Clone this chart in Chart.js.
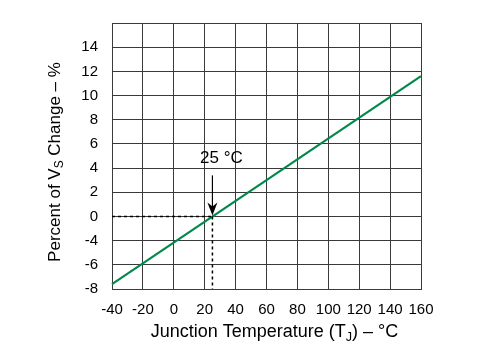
<!DOCTYPE html>
<html>
<head>
<meta charset="utf-8">
<script src="https://cdn.jsdelivr.net/npm/chart.js@4"></script>
<style>
  html, body { margin: 0; padding: 0; background: #fff; }
  #wrap { width: 500px; height: 354px; position: relative; }
</style>
</head>
<body>
<div id="wrap"><canvas id="vsChart"></canvas></div>
<script>
// Junction temperature (degC) and Vs change (%, in plotted units)
const temps = [-40, 160];
const vsChange = [-5.6, 11.6];

// Tick labels as printed on the original (note: no "-2" label)
const yTickValues = [-6, -4, -2, 0, 2, 4, 6, 8, 10, 12, 14, 16];
const yTickLabels = ['-8', '-6', '-4', '0', '2', '4', '6', '8', '10', '12', '14', ''];
const xTicks = [-40, -20, 0, 20, 40, 60, 80, 100, 120, 140, 160];

// 25 degC marker
const markerTemp = 25;
const markerValue = 0;
const markerLabel = '25 °C';

const FONT = '"Liberation Sans", Arial, sans-serif';
const gridColor = '#3a3a3a';

// Draws text with a subscript part: parts = [[text, isSub], ...]
const drawSubText = (ctx, parts, x, y, size) => {
    let total = 0;
    parts.forEach(([t, sub]) => {
        ctx.font = `${sub ? size * 0.7 : size}px ${FONT}`;
        total += ctx.measureText(t).width;
    });
    let cx = x - total / 2;
    parts.forEach(([t, sub]) => {
        ctx.font = `${sub ? size * 0.7 : size}px ${FONT}`;
        ctx.fillText(t, cx, sub ? y + size * 0.3 : y);
        cx += ctx.measureText(t).width;
    });
};

const extras = {
    id: 'extras',
    afterDatasetsDraw(chart) {
        const { ctx, scales: { x, y } } = chart;
        const px = x.getPixelForValue(markerTemp);
        const py = y.getPixelForValue(markerValue);
        ctx.save();
        // dashed guides
        ctx.strokeStyle = '#000';
        ctx.lineWidth = 1.5;
        ctx.setLineDash([3, 3]);
        ctx.beginPath();
        ctx.moveTo(x.left, py);
        ctx.lineTo(px, py);
        ctx.moveTo(px, py);
        ctx.lineTo(px, y.bottom);
        ctx.stroke();
        ctx.setLineDash([]);
        // arrow
        const top = y.getPixelForValue(3.4);
        ctx.lineWidth = 1.2;
        ctx.beginPath();
        ctx.moveTo(px, top);
        ctx.lineTo(px, py - 8);
        ctx.stroke();
        ctx.fillStyle = '#000';
        ctx.beginPath();
        ctx.moveTo(px, py - 1);
        ctx.lineTo(px - 5, py - 14);
        ctx.lineTo(px, py - 10);
        ctx.lineTo(px + 5, py - 14);
        ctx.closePath();
        ctx.fill();
        // marker label
        ctx.textBaseline = 'middle';
        ctx.textAlign = 'center';
        ctx.font = `17px ${FONT}`;
        ctx.fillText(markerLabel, px + 9, y.getPixelForValue(4.8));
        ctx.restore();
    },
    afterDraw(chart) {
        const { ctx, scales: { x, y } } = chart;
        ctx.save();
        ctx.fillStyle = '#000';
        ctx.textBaseline = 'middle';
        ctx.textAlign = 'left';
        drawSubText(ctx, [['Junction Temperature (T', false], ['J', true], [') – °C', false]],
            (x.left + x.right) / 2 + 8, 332, 18);
        ctx.translate(55, (y.top + y.bottom) / 2 + 6);
        ctx.rotate(-Math.PI / 2);
        drawSubText(ctx, [['Percent of V', false], ['S', true], [' Change – %', false]], 0, 0, 17);
        ctx.restore();
    }
};

new Chart(document.getElementById('vsChart'), {
    type: 'scatter',
    data: {
        datasets: [{
            data: temps.map((t, i) => ({ x: t, y: vsChange[i] })),
            showLine: true,
            borderColor: '#00894b',
            borderWidth: 2.2,
            pointRadius: 0,
            clip: false
        }]
    },
    options: {
        responsive: true,
        maintainAspectRatio: false,
        animation: false,
        layout: { padding: { left: 0, top: 23, right: 79, bottom: 0 } },
        plugins: { legend: { display: false }, tooltip: { enabled: false } },
        scales: {
            x: {
                type: 'linear',
                min: -40, max: 160,
                afterBuildTicks: s => { s.ticks = xTicks.map(v => ({ value: v })); },
                afterFit: s => { s.height = 65; },
                grid: { color: gridColor, lineWidth: 1, drawTicks: false },
                border: { color: gridColor, width: 1 },
                ticks: { color: '#000', padding: 12, maxRotation: 0, autoSkip: false,
                    font: { family: FONT, size: 15 } }
            },
            y: {
                type: 'linear',
                min: -6, max: 16,
                afterBuildTicks: s => { s.ticks = yTickValues.map(v => ({ value: v })); },
                afterFit: s => { s.width = 112; },
                grid: { color: gridColor, lineWidth: 1, drawTicks: false },
                border: { color: gridColor, width: 1 },
                ticks: { color: '#000', padding: 14, autoSkip: false,
                    font: { family: FONT, size: 15 },
                    callback: v => yTickLabels[yTickValues.indexOf(v)] }
            }
        }
    },
    plugins: [extras]
});
</script>
</body>
</html>
